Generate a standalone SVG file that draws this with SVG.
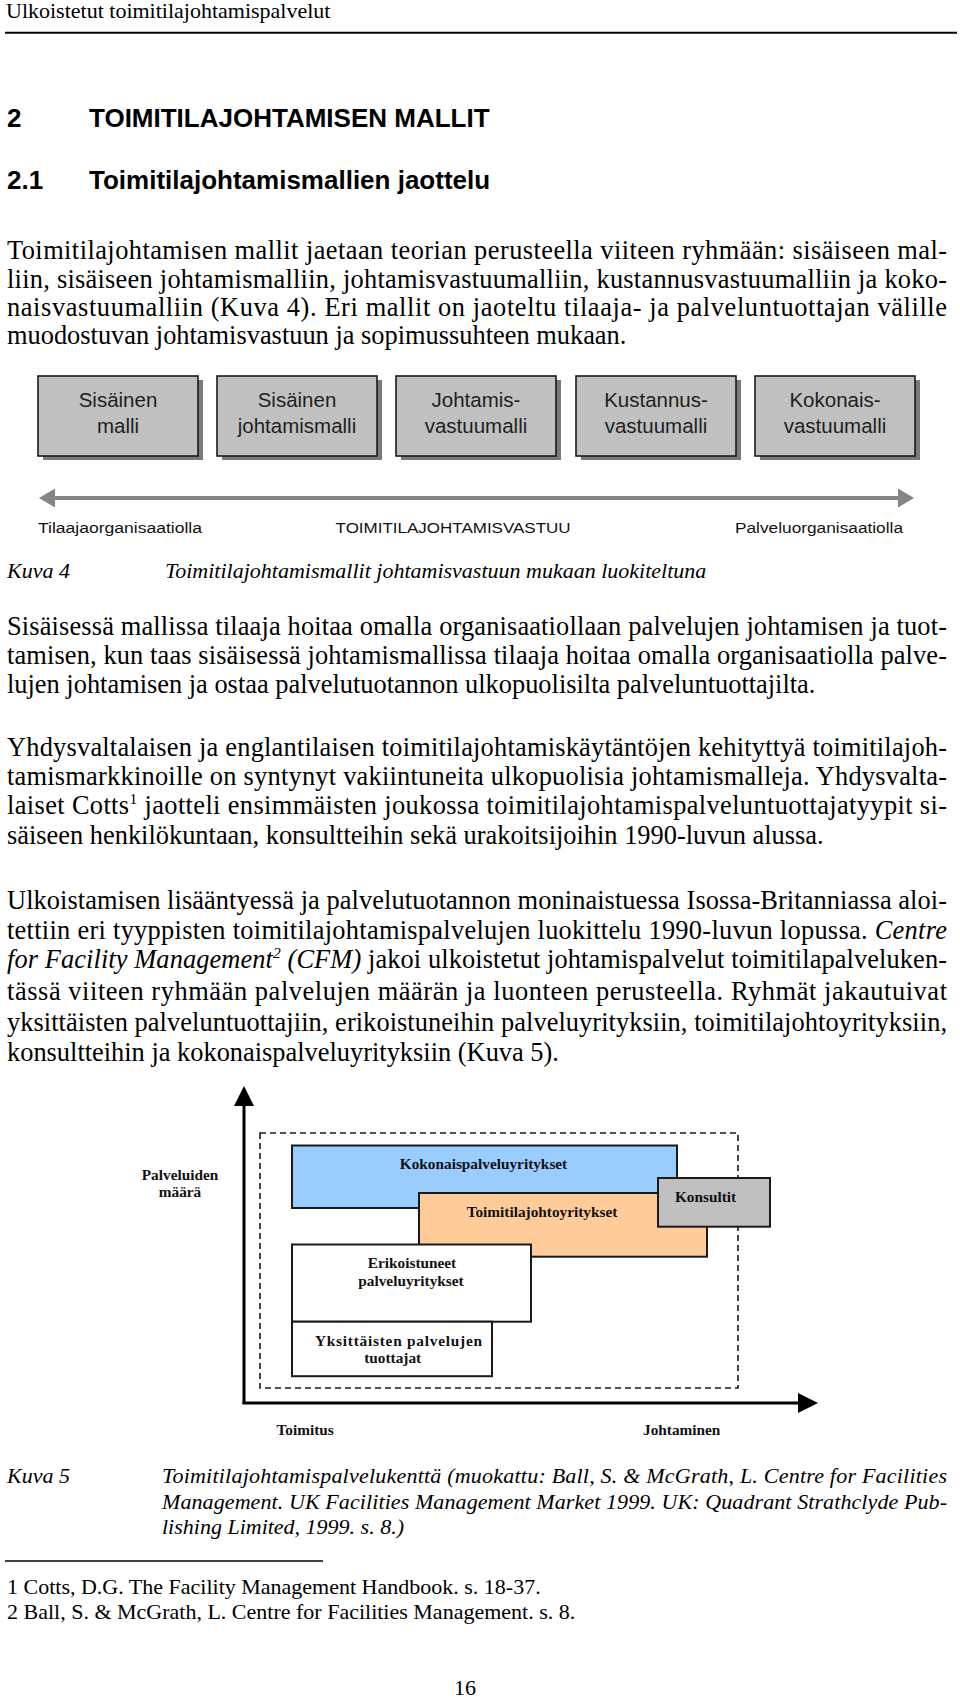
<svg xmlns="http://www.w3.org/2000/svg" width="960" height="1699" viewBox="0 0 960 1699">
<defs>
<style>
.serif{font-family:"Liberation Serif","Times New Roman",serif;fill:#000}
.it{font-style:italic}
.hd{font-family:"Liberation Sans",Arial,sans-serif;font-weight:bold;font-size:26px;fill:#000}
.body{font-size:26.4px}
.small{font-size:22px}
.boxlbl{font-family:"Liberation Sans",Arial,sans-serif;font-size:20.5px;fill:#1e1e1e;text-anchor:middle}
.axlbl{font-family:"Liberation Sans",Arial,sans-serif;font-size:15.5px;fill:#111}
.fig5{font-family:"Liberation Serif","Times New Roman",serif;font-weight:bold;font-size:15.3px;fill:#111}
.mbox{fill:#c0c0c0;stroke:#1a1a1a;stroke-width:1.6}
.mshadow{fill:#7a7a7a}
.fbox{stroke:#1a1a1a;stroke-width:2}
</style>
<marker id="grayHead" markerUnits="userSpaceOnUse" markerWidth="16" markerHeight="20" refX="0" refY="9.5" orient="auto-start-reverse">
<path d="M0,0 L16,9.5 L0,19 z" fill="#858585"/>
</marker>
<marker id="blackHead" markerUnits="userSpaceOnUse" markerWidth="20" markerHeight="20" refX="0" refY="10" orient="auto">
<path d="M0,0 L20,10 L0,20 z" fill="#000"/>
</marker>
</defs>
<rect width="960" height="1699" fill="#fff"/>

<line x1="5" y1="32.7" x2="957" y2="32.7" stroke="#000" stroke-width="2"/>
<line x1="5" y1="1561" x2="323" y2="1561" stroke="#000" stroke-width="1.5"/>

<g id="text" class="serif">
<text class="small" x="6" y="17.5">Ulkoistetut toimitilajohtamispalvelut</text>
<text class="hd" x="7" y="126.5">2</text>
<text class="hd" x="89" y="126.5">TOIMITILAJOHTAMISEN MALLIT</text>
<text class="hd" x="7" y="188.5">2.1</text>
<text class="hd" x="89" y="188.5">Toimitilajohtamismallien jaottelu</text>

<text class="body" x="7" y="259" textLength="940" lengthAdjust="spacing">Toimitilajohtamisen mallit jaetaan teorian perusteella viiteen ryhmään: sisäiseen mal-</text>
<text class="body" x="7" y="287.5" textLength="940" lengthAdjust="spacing">liin, sisäiseen johtamismalliin, johtamisvastuumalliin, kustannusvastuumalliin ja koko-</text>
<text class="body" x="7" y="316" textLength="940" lengthAdjust="spacing">naisvastuumalliin (Kuva 4). Eri mallit on jaoteltu tilaaja- ja palveluntuottajan välille</text>
<text class="body" x="7" y="344">muodostuvan johtamisvastuun ja sopimussuhteen mukaan.</text>

<text class="small it" x="7" y="578">Kuva 4</text>
<text class="small it" x="165" y="578">Toimitilajohtamismallit johtamisvastuun mukaan luokiteltuna</text>

<text class="body" x="7" y="634.5" textLength="940" lengthAdjust="spacing">Sisäisessä mallissa tilaaja hoitaa omalla organisaatiollaan palvelujen johtamisen ja tuot-</text>
<text class="body" x="7" y="663.7" textLength="940" lengthAdjust="spacing">tamisen, kun taas sisäisessä johtamismallissa tilaaja hoitaa omalla organisaatiolla palve-</text>
<text class="body" x="7" y="693">lujen johtamisen ja ostaa palvelutuotannon ulkopuolisilta palveluntuottajilta.</text>

<text class="body" x="7" y="756" textLength="940" lengthAdjust="spacing">Yhdysvaltalaisen ja englantilaisen toimitilajohtamiskäytäntöjen kehityttyä toimitilajoh-</text>
<text class="body" x="7" y="785" textLength="940" lengthAdjust="spacing">tamismarkkinoille on syntynyt vakiintuneita ulkopuolisia johtamismalleja. Yhdysvalta-</text>
<text class="body" x="7" y="814.3" textLength="940" lengthAdjust="spacing">laiset Cotts<tspan font-size="15.5" dy="-10">1</tspan><tspan dy="10"> jaotteli ensimmäisten joukossa toimitilajohtamispalveluntuottajatyypit si-</tspan></text>
<text class="body" x="7" y="843.5">säiseen henkilökuntaan, konsultteihin sekä urakoitsijoihin 1990-luvun alussa.</text>

<text class="body" x="7" y="908.6" textLength="940" lengthAdjust="spacing">Ulkoistamisen lisääntyessä ja palvelutuotannon moninaistuessa Isossa-Britanniassa aloi-</text>
<text class="body" x="7" y="938.6" textLength="940" lengthAdjust="spacing">tettiin eri tyyppisten toimitilajohtamispalvelujen luokittelu 1990-luvun lopussa. <tspan class="it">Centre</tspan></text>
<text class="body" x="7" y="968.4" textLength="940" lengthAdjust="spacing"><tspan class="it">for Facility Management</tspan><tspan class="it" font-size="15.5" dy="-10">2</tspan><tspan class="it" dy="10"> (CFM)</tspan> jakoi ulkoistetut johtamispalvelut toimitilapalveluken-</text>
<text class="body" x="7" y="999.5" textLength="940" lengthAdjust="spacing">tässä viiteen ryhmään palvelujen määrän ja luonteen perusteella. Ryhmät jakautuivat</text>
<text class="body" x="7" y="1030.5" textLength="940" lengthAdjust="spacing">yksittäisten palveluntuottajiin, erikoistuneihin palveluyrityksiin, toimitilajohtoyrityksiin,</text>
<text class="body" x="7" y="1061">konsultteihin ja kokonaispalveluyrityksiin (Kuva 5).</text>

<text class="small it" x="7" y="1483">Kuva 5</text>
<text class="small it" x="162" y="1483" textLength="785" lengthAdjust="spacing">Toimitilajohtamispalvelukenttä (muokattu: Ball, S. &amp; McGrath, L. Centre for Facilities</text>
<text class="small it" x="162" y="1508.5" textLength="785" lengthAdjust="spacing">Management. UK Facilities Management Market 1999. UK: Quadrant Strathclyde Pub-</text>
<text class="small it" x="162" y="1534">lishing Limited, 1999. s. 8.)</text>

<text class="small" x="7" y="1594">1 Cotts, D.G. The Facility Management Handbook. s. 18-37.</text>
<text class="small" x="7" y="1619">2 Ball, S. &amp; McGrath, L. Centre for Facilities Management. s. 8.</text>
<text class="small" x="465" y="1695" text-anchor="middle" font-size="24">16</text>
</g>

<g id="connectors">
<line x1="55" y1="498" x2="898" y2="498" stroke="#858585" stroke-width="4" marker-start="url(#grayHead)" marker-end="url(#grayHead)"/>
<line x1="244" y1="1404" x2="244" y2="1106" stroke="#000" stroke-width="3" marker-end="url(#blackHead)"/>
<line x1="242.5" y1="1403" x2="798" y2="1403" stroke="#000" stroke-width="3" marker-end="url(#blackHead)"/>
</g>

<g id="kuva4-labels" class="axlbl">
<text x="38" y="533" textLength="164" lengthAdjust="spacingAndGlyphs">Tilaajaorganisaatiolla</text>
<text x="335.6" y="533" textLength="235" lengthAdjust="spacingAndGlyphs">TOIMITILAJOHTAMISVASTUU</text>
<text x="735" y="533" textLength="168" lengthAdjust="spacingAndGlyphs">Palveluorganisaatiolla</text>
</g>

<g id="m1">
<rect class="mshadow" x="43" y="380" width="160" height="80"/>
<rect class="mbox" x="38" y="376" width="160" height="80"/>
<text class="boxlbl" x="118" y="406.7">Sisäinen</text>
<text class="boxlbl" x="118" y="433.3">malli</text>
</g>
<g id="m2">
<rect class="mshadow" x="222" y="380" width="160" height="80"/>
<rect class="mbox" x="217" y="376" width="160" height="80"/>
<text class="boxlbl" x="297" y="406.7">Sisäinen</text>
<text class="boxlbl" x="297" y="433.3">johtamismalli</text>
</g>
<g id="m3">
<rect class="mshadow" x="401" y="380" width="160" height="80"/>
<rect class="mbox" x="396" y="376" width="160" height="80"/>
<text class="boxlbl" x="476" y="406.7">Johtamis-</text>
<text class="boxlbl" x="476" y="433.3">vastuumalli</text>
</g>
<g id="m4">
<rect class="mshadow" x="581" y="380" width="160" height="80"/>
<rect class="mbox" x="576" y="376" width="160" height="80"/>
<text class="boxlbl" x="656" y="406.7">Kustannus-</text>
<text class="boxlbl" x="656" y="433.3">vastuumalli</text>
</g>
<g id="m5">
<rect class="mshadow" x="760" y="380" width="160" height="80"/>
<rect class="mbox" x="755" y="376" width="160" height="80"/>
<text class="boxlbl" x="835" y="406.7">Kokonais-</text>
<text class="boxlbl" x="835" y="433.3">vastuumalli</text>
</g>

<g id="field">
<rect x="260" y="1133" width="478" height="255" fill="none" stroke="#1a1a1a" stroke-width="1.6" stroke-dasharray="6 4"/>
</g>
<g id="yaxis-label" class="fig5">
<text x="180" y="1180" text-anchor="middle">Palveluiden</text>
<text x="180" y="1197" text-anchor="middle">määrä</text>
</g>
<g id="kokonais">
<rect class="fbox" x="292" y="1145.5" width="385" height="62.5" fill="#99ccff"/>
<text class="fig5" x="483.5" y="1168.5" text-anchor="middle">Kokonaispalveluyritykset</text>
</g>
<g id="toimitilajohto">
<rect class="fbox" x="419" y="1193" width="288" height="63.7" fill="#ffcc99"/>
<text class="fig5" x="542" y="1216.5" text-anchor="middle">Toimitilajohtoyritykset</text>
</g>
<g id="konsultit">
<rect class="fbox" x="658" y="1178" width="112" height="48.7" fill="#c0c0c0"/>
<text class="fig5" x="705.5" y="1201.5" text-anchor="middle">Konsultit</text>
</g>
<g id="erikoistuneet">
<rect class="fbox" x="292" y="1244.5" width="239" height="77.2" fill="#fff"/>
<text class="fig5" x="412" y="1267.5" text-anchor="middle">Erikoistuneet</text>
<text class="fig5" x="411" y="1286" text-anchor="middle">palveluyritykset</text>
</g>
<g id="yksittaiset">
<rect class="fbox" x="292" y="1321.7" width="200" height="54.5" fill="#fff"/>
<text class="fig5" x="315" y="1346" textLength="167" lengthAdjust="spacing">Yksittäisten palvelujen</text>
<text class="fig5" x="392.7" y="1362.5" text-anchor="middle">tuottajat</text>
</g>
<g id="xaxis-labels" class="fig5">
<text x="276.5" y="1435">Toimitus</text>
<text x="643" y="1435">Johtaminen</text>
</g>
</svg>
